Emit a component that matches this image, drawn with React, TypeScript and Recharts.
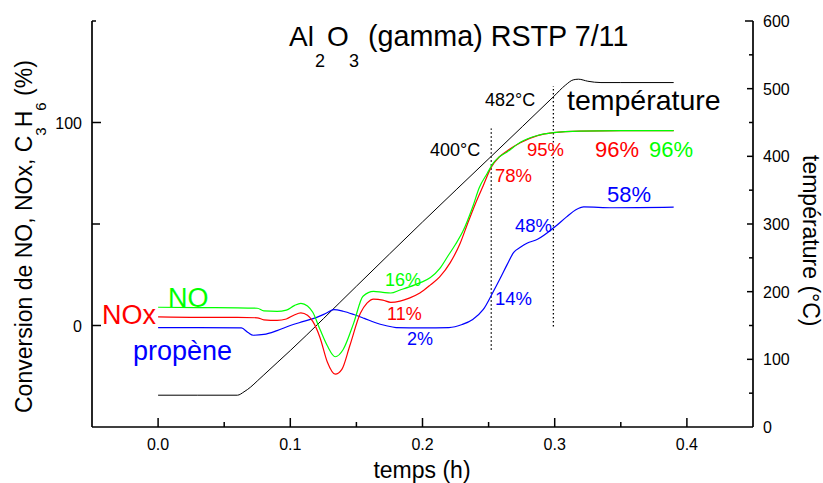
import React from 'react';
import { LineChart, Line, XAxis, YAxis, ReferenceLine } from 'recharts';

// ---- data (time in h) ----
const tempTime = [0, 0.03, 0.06, 0.065, 0.07, 0.075, 0.08, 0.09, 0.1, 0.15, 0.2, 0.252, 0.299, 0.308, 0.314, 0.318, 0.325, 0.335, 0.35, 0.39];
const tempValues = [47, 47, 47, 52, 59, 68, 77, 95, 113, 208, 303, 400, 488, 505, 513, 514, 511, 509, 509, 509];

const noTime = [0, 0.03, 0.06, 0.075, 0.08, 0.09, 0.097, 0.103, 0.108, 0.113, 0.117, 0.1225, 0.128, 0.134, 0.14, 0.148, 0.155, 0.163, 0.17, 0.176, 0.183, 0.19, 0.198, 0.206, 0.213, 0.219, 0.225, 0.231, 0.238, 0.243, 0.249, 0.2535, 0.258, 0.264, 0.274, 0.287, 0.299, 0.319, 0.35, 0.39];
const noValues = [9, 8.8, 8.7, 8.5, 7.2, 7, 7.6, 9.8, 10.9, 9.6, 6.5, -2, -10, -15.4, -11.8, 1.3, 14.4, 16.8, 16.3, 16, 17.5, 19, 21, 23.6, 28, 34, 40, 47, 58.5, 68, 75, 80, 83, 85.5, 90.3, 93.6, 95, 95.8, 96, 96];

const noxTime = [0, 0.03, 0.06, 0.075, 0.08, 0.09, 0.097, 0.103, 0.108, 0.113, 0.117, 0.1225, 0.128, 0.134, 0.139, 0.145, 0.153, 0.158, 0.163, 0.17, 0.176, 0.183, 0.19, 0.198, 0.206, 0.213, 0.221, 0.2285, 0.234, 0.24, 0.246, 0.252, 0.258, 0.264, 0.274, 0.287, 0.299, 0.319, 0.35, 0.39];
const noxValues = [4.2, 4, 4, 3.8, 2.8, 2.5, 3.2, 5.2, 6.2, 5, 2, -6, -18, -24, -21.6, -10, 6, 11, 13, 12.5, 11.4, 12, 13.5, 16, 20, 24, 31, 40.5, 50, 60, 69, 78, 83, 86, 90, 93.5, 95, 95.8, 96, 96];

const c3h6Time = [0, 0.03, 0.063, 0.068, 0.072, 0.08, 0.09, 0.1, 0.11, 0.12, 0.127, 0.133, 0.14, 0.148, 0.156, 0.164, 0.172, 0.18, 0.2, 0.22, 0.23, 0.238, 0.246, 0.253, 0.259, 0.264, 0.269, 0.274, 0.279, 0.287, 0.299, 0.309, 0.316, 0.322, 0.344, 0.39];
const c3h6Values = [-1, -1, -1.2, -3.5, -4.8, -4.4, -2.5, 0, 2, 4, 6, 7.8, 7, 5.4, 3.5, 1.5, 0, -1, -1.2, -1, 0.5, 3, 7.9, 16, 23.5, 30, 36, 38.5, 40.5, 42.5, 48, 53.5, 57, 58.4, 58, 58.3];

// dotted markers: time, bottom and top (left-axis units)
const markerTimes = [0.252, 0.299];
const markerBottoms = [-12, -0.5];
const markerTops = [97, 118];

// ticks
const xTicks = [0, 0.05, 0.1, 0.15, 0.2, 0.25, 0.3, 0.35, 0.4];
const xLabeled = [0, 0.1, 0.2, 0.3, 0.4];
const leftTicks = [0, 50, 100, 150];
const leftLabeled = [0, 100];
const rightTicks = [0, 50, 100, 150, 200, 250, 300, 350, 400, 450, 500, 550, 600];
const rightLabeled = [0, 100, 200, 300, 400, 500, 600];

const rows = (ts: number[], vs: number[]) => ts.map((t, i) => ({ t, v: vs[i] }));
const tempData = rows(tempTime, tempValues);
const noData = rows(noTime, noValues);
const noxData = rows(noxTime, noxValues);
const c3h6Data = rows(c3h6Time, c3h6Values);

const FONT = 'Liberation Sans, Arial, Helvetica, sans-serif';
const GREEN = '#00ff00';
const RED = '#ff0000';
const BLUE = '#0000ff';
const TICK_FONT = 16;

const isIn = (arr: number[], v: number) => arr.some((a) => Math.abs(a - v) < 1e-9);

const renderXTick = (props: any) => {
  const { x, y, payload } = props;
  const v = payload.value;
  const major = isIn(xLabeled, v);
  const len = major ? 9 : 5;
  return (
    <g key={'xt' + v}>
      <path d={`M${x},${y}L${x},${y - len}`} stroke="#000" strokeWidth={1.5} fill="none" />
      {major && (
        <text x={x} y={y + 23} textAnchor="middle" fontSize={TICK_FONT} fontFamily={FONT} fill="#000" stroke="none">
          {v.toFixed(1)}
        </text>
      )}
    </g>
  );
};

const renderLeftTick = (props: any) => {
  const { x, y, payload } = props;
  const v = payload.value;
  const major = isIn(leftLabeled, v);
  const len = v === 150 ? 4 : major ? 9 : 8;
  return (
    <g key={'lt' + v}>
      <path d={`M${x},${y}L${x + len},${y}`} stroke="#000" strokeWidth={1.5} fill="none" />
      {major && (
        <text x={x - 10} y={y + 6} textAnchor="end" fontSize={TICK_FONT} fontFamily={FONT} fill="#000" stroke="none">
          {v}
        </text>
      )}
    </g>
  );
};

const renderRightTick = (props: any) => {
  const { x, y, payload } = props;
  const v = payload.value;
  const major = isIn(rightLabeled, v);
  const len = v === 0 ? 0 : v === 600 ? 8 : major ? 6 : 4;
  return (
    <g key={'rt' + v}>
      {len > 0 && <path d={`M${x},${y}L${x - len},${y}`} stroke="#000" strokeWidth={1.5} fill="none" />}
      {major && (
        <text x={x + 10} y={y + 6} textAnchor="start" fontSize={TICK_FONT} fontFamily={FONT} fill="#000" stroke="none">
          {v}
        </text>
      )}
    </g>
  );
};

const annotations = [
  { text: 'NO', color: GREEN },
  { text: 'NOx', color: RED },
  { text: 'propène', color: BLUE },
  { text: 'température', color: '#000' },
  { text: '482°C', color: '#000' },
  { text: '400°C', color: '#000' },
  { text: '95%', color: RED },
  { text: '96%', color: RED },
  { text: '96%', color: GREEN },
  { text: '78%', color: RED },
  { text: '58%', color: BLUE },
  { text: '48%', color: BLUE },
  { text: '14%', color: BLUE },
  { text: '2%', color: BLUE },
  { text: '11%', color: RED },
  { text: '16%', color: GREEN },
];
const annotationPlacement = [
  { x: 168, y: 307, size: 27 },
  { x: 102, y: 324, size: 27 },
  { x: 133, y: 360, size: 27 },
  { x: 567, y: 110, size: 28.5 },
  { x: 485, y: 106, size: 18 },
  { x: 430, y: 156, size: 18 },
  { x: 527, y: 156, size: 18.5 },
  { x: 595, y: 157, size: 22 },
  { x: 649, y: 157, size: 22 },
  { x: 495, y: 182, size: 18.5 },
  { x: 607, y: 202, size: 22 },
  { x: 515, y: 232, size: 18.5 },
  { x: 495, y: 305, size: 18.5 },
  { x: 407, y: 345, size: 18 },
  { x: 387, y: 320, size: 18 },
  { x: 385, y: 286, size: 18 },
];

export default function App() {
  return (
    <div style={{ position: 'absolute', left: 0, top: 0, width: 823, height: 483, background: '#fff' }}>
      <LineChart width={823} height={483} margin={{ top: 21, right: 0, bottom: 0, left: 0 }}>
        <XAxis
          dataKey="t"
          type="number"
          domain={[-0.05, 0.45]}
          ticks={xTicks}
          interval={0}
          allowDataOverflow
          height={56}
          tickSize={0}
          tickMargin={0}
          tickLine={false}
          tick={renderXTick}
          axisLine={{ stroke: '#000', strokeWidth: 1.7 }}
        />
        <YAxis
          yAxisId="left"
          orientation="left"
          type="number"
          domain={[-50, 150]}
          ticks={leftTicks}
          interval={0}
          allowDataOverflow
          width={92}
          tickSize={0}
          tickMargin={0}
          tickLine={false}
          tick={renderLeftTick}
          axisLine={{ stroke: '#000', strokeWidth: 1.7 }}
        />
        <YAxis
          yAxisId="right"
          orientation="right"
          type="number"
          domain={[0, 600]}
          ticks={rightTicks}
          interval={0}
          allowDataOverflow
          width={70}
          tickSize={0}
          tickMargin={0}
          tickLine={false}
          tick={renderRightTick}
          axisLine={{ stroke: '#000', strokeWidth: 1.7 }}
        />
        {markerTimes.map((t, i) => (
          <ReferenceLine
            key={'m' + i}
            yAxisId="left"
            segment={[
              { x: t, y: markerBottoms[i] },
              { x: t, y: markerTops[i] },
            ]}
            stroke="#000"
            strokeWidth={1.3}
            strokeDasharray="1.5 2.5"
          />
        ))}
        <Line data={tempData} dataKey="v" yAxisId="right" type="monotone" stroke="#000" strokeWidth={1} dot={false} isAnimationActive={false} />
        <Line data={c3h6Data} dataKey="v" yAxisId="left" type="monotone" stroke={BLUE} strokeWidth={1.2} dot={false} isAnimationActive={false} />
        <Line data={noxData} dataKey="v" yAxisId="left" type="monotone" stroke={RED} strokeWidth={1.2} dot={false} isAnimationActive={false} />
        <Line data={noData} dataKey="v" yAxisId="left" type="monotone" stroke={GREEN} strokeWidth={1.2} dot={false} isAnimationActive={false} />
      </LineChart>
      <svg width={823} height={483} style={{ position: 'absolute', left: 0, top: 0, pointerEvents: 'none' }} fontFamily={FONT}>
        <text fontSize={28} fill="#000">
          <tspan x={289} y={46}>Al</tspan>
          <tspan x={315} y={67} fontSize={18}>2</tspan>
          <tspan x={327} y={46}>O</tspan>
          <tspan x={349} y={67} fontSize={18}>3</tspan>
          <tspan x={368} y={46} fontSize={28.7}>(gamma) RSTP 7/11</tspan>
        </text>
        <g transform="translate(32, 413) rotate(-90)">
          <text x={0} y={0} fontSize={23} fill="#000">
            Conversion de NO, NOx, C
            <tspan dy={14} fontSize={15}>3</tspan>
            <tspan dy={-14}>H</tspan>
            <tspan dy={14} fontSize={15}>6</tspan>
            <tspan dy={-14}> (%)</tspan>
          </text>
        </g>
        <g transform="translate(803, 155) rotate(90)">
          <text x={0} y={0} fontSize={23} fill="#000">température (°C)</text>
        </g>
        <text x={422} y={478} textAnchor="middle" fontSize={23} fill="#000">temps (h)</text>
        {annotations.map((a, i) => (
          <text key={'a' + i} x={annotationPlacement[i].x} y={annotationPlacement[i].y} fontSize={annotationPlacement[i].size} fill={a.color}>
            {a.text}
          </text>
        ))}
      </svg>
    </div>
  );
}
